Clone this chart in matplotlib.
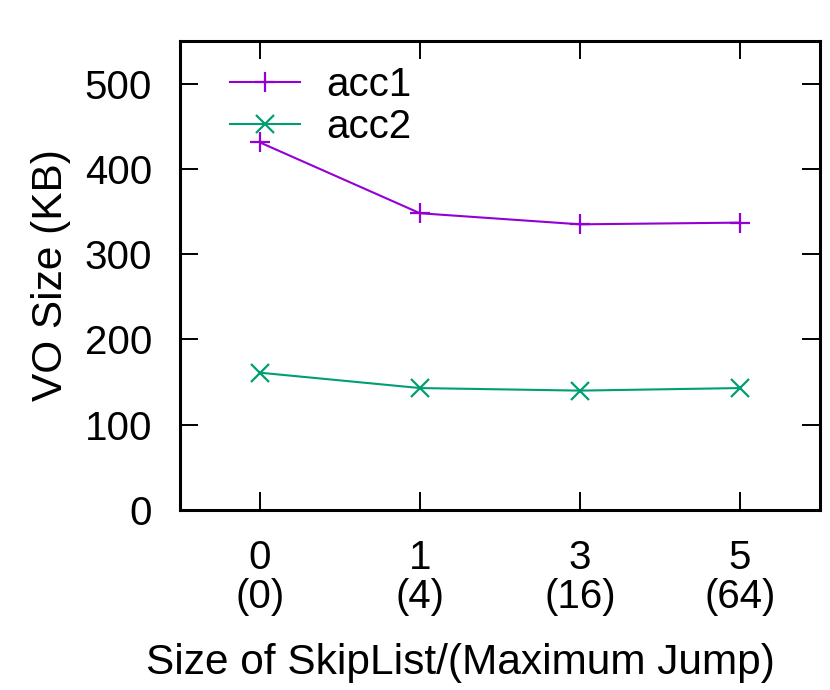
import numpy as np
import matplotlib
matplotlib.use("Agg")
import matplotlib.pyplot as plt

# data
categories = ["0\n(0)", "1\n(4)", "3\n(16)", "5\n(64)"]
acc1 = [431, 348, 335, 337]
acc2 = [161, 143, 140, 143]

plt.rcParams['font.family'] = ['Liberation Sans', 'DejaVu Sans']
fs = 29

fig = plt.figure(figsize=(8.3, 6.9), dpi=100)
ax = fig.add_axes([180/830, 1-510/690, 640/830, 469/690])

x = np.arange(len(categories))
ax.plot(x, acc1, color='#9400d3', lw=1.5, marker='+', ms=14, mew=1.6, label='acc1')
ax.plot(x, acc2, color='#009e73', lw=1.5, marker='x', ms=13, mew=1.6, label='acc2')

ax.set_xlim(-0.5, 3.5)
ax.set_ylim(0, 550)
ax.set_yticks([0, 100, 200, 300, 400, 500])
ax.set_xticks(x)
ax.set_xticklabels(categories, linespacing=1.02)

for s in ax.spines.values():
    s.set_linewidth(2.2)
ax.tick_params(direction='in', length=13, width=1.4, labelsize=fs,
               top=True, right=True)
ax.tick_params(axis='y', pad=20)
ax.tick_params(axis='x', pad=21)

ax.set_ylabel("VO Size (KB)", fontsize=30.5, labelpad=10)
fig.text(460/830, 1-663/690, "Size of SkipList/(Maximum Jump)", fontsize=30.5,
         ha='center', va='center')

leg = ax.legend(loc='upper left', bbox_to_anchor=(230/830, 1-66/690),
                bbox_transform=fig.transFigure, frameon=False, fontsize=fs,
                handlelength=1.75, handletextpad=0.65, labelspacing=0.1,
                borderpad=0, borderaxespad=0)

fig.savefig("out.png", dpi=100)
